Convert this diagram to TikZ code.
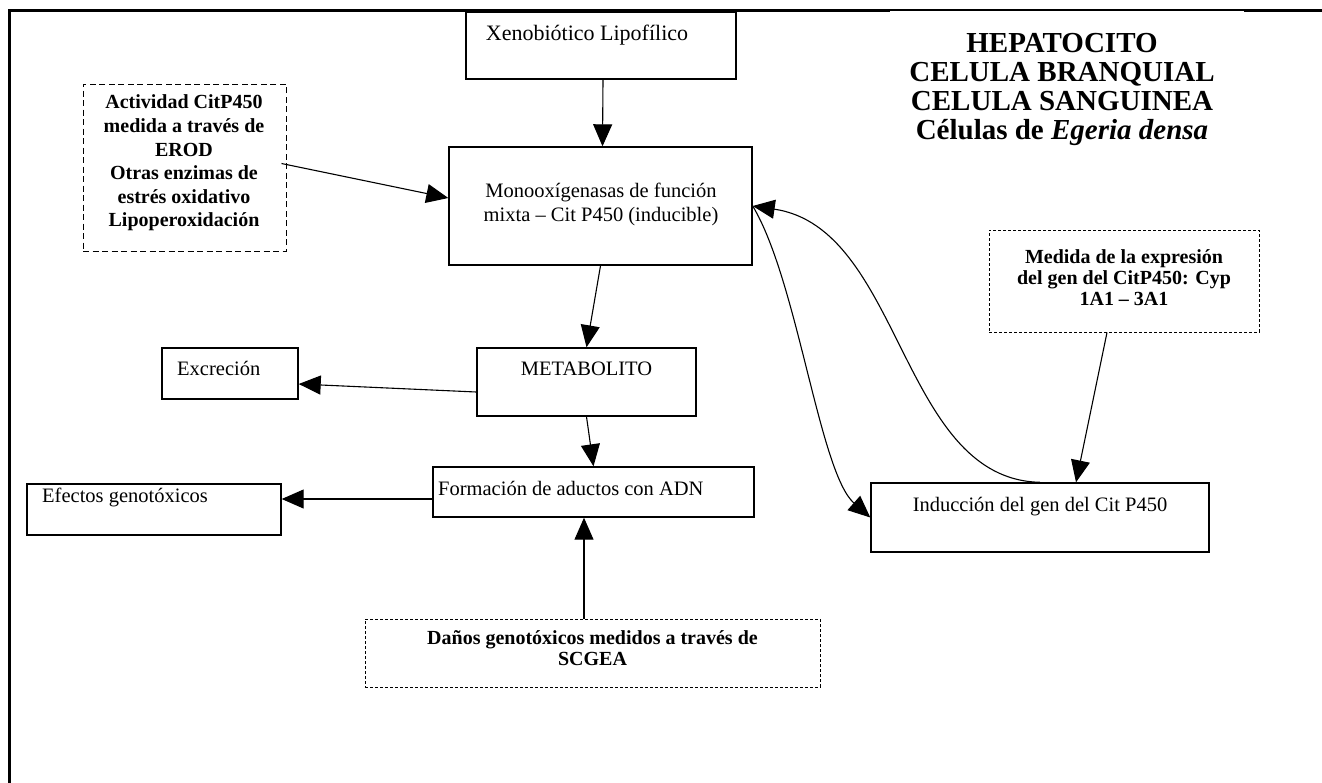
\documentclass[tikz,border=0pt]{standalone}
\usepackage{fontspec}
\setmainfont{Liberation Serif}
\usetikzlibrary{arrows.meta,calc}
\begin{document}
\begin{tikzpicture}[x=1pt,y=-1pt,
  box/.style={draw, line width=1.4pt, inner sep=0pt},
  dbox/.style={draw, line width=1pt, inner sep=0pt, dash pattern=on 6pt off 3.5pt},
  fbox/.style={draw, line width=1pt, inner sep=0pt, dash pattern=on 3pt off 2pt},
  txt/.style={inner sep=0pt, font=\fontsize{20.5}{24}\selectfont},
  btxt/.style={inner sep=0pt, align=center, font=\fontsize{20}{23.6}\selectfont\bfseries},
  ttl/.style={inner sep=0pt, align=center, font=\fontsize{29}{29}\selectfont\bfseries},
  arr/.style={line width=1.1pt, -{Triangle[length=22pt,width=19pt]}},
  frame/.style={line width=3pt}]
\useasboundingbox (0,0) rectangle (1322,782);
% frame
\coordinate (f0) at (9,782);
\coordinate (f1) at (9,10);
\coordinate (f2) at (888,10);
\coordinate (f3) at (1244,10);
\coordinate (f4) at (1322,10);
\draw[frame, line cap=rect] (f0) -- (f1) -- (f2);
\draw[line width=1.6pt] (f2) -- (f3);
\draw[frame] (f3) -- (f4);
% boxes
\node[box, minimum width=270pt, minimum height=67pt] (xeno) at (601,45.5) {};
\node[box, minimum width=303pt, minimum height=118pt] (mono) at (600.5,206) {};
\node[dbox, minimum width=203pt, minimum height=167pt] (lbox) at (184.5,167.5) {};
\node[fbox, minimum width=270pt, minimum height=102pt] (rbox) at (1124,281) {};
\node[box, minimum width=219pt, minimum height=68pt] (metab) at (586.5,382) {};
\node[box, minimum width=136pt, minimum height=51pt] (excr) at (230,373.5) {};
\node[box, minimum width=321pt, minimum height=50pt] (form) at (593.5,492) {};
\node[box, minimum width=254pt, minimum height=51pt] (efec) at (154,509.5) {};
\node[box, minimum width=338pt, minimum height=69pt] (induc) at (1040,517.5) {};
\node[fbox, minimum width=455pt, minimum height=68pt] (bbox) at (592.5,653) {};
% texts
\node[txt, anchor=base, font=\fontsize{22}{24}\selectfont] (xenoT) at (587,40) {Xenobiótico Lipofílico};
\node[txt, align=center] (monoT) at (601,204) {Monooxígenasas de función\\mixta – Cit P450 (inducible)};
\node[btxt] (lboxT) at (184,163) {Actividad CitP450\\medida a través de\\EROD\\Otras enzimas de\\estrés oxidativo\\Lipoperoxidación};
\node[ttl] (title) at (1062,89) {HEPATOCITO\\CELULA BRANQUIAL\\CELULA SANGUINEA\\Células de \textit{Egeria densa}};
\node[btxt, font=\fontsize{20}{21}\selectfont\bfseries] (rboxT) at (1124,278) {Medida de la expresión\\del gen del CitP450: Cyp\\1A1 – 3A1};
\node[txt, anchor=base] (metabT) at (586.5,375) {METABOLITO};
\node[txt, anchor=base west] (excrT) at (177,375) {Excreción};
\node[txt, anchor=base west] (formT) at (438,495) {Formación de aductos con ADN};
\node[txt, anchor=base west] (efecT) at (42,502) {Efectos genotóxicos};
\node[txt, anchor=base] (inducT) at (1040,511) {Inducción del gen del Cit P450};
\node[btxt, font=\fontsize{20}{21}\selectfont\bfseries] (bboxT) at (592.5,648) {Daños genotóxicos medidos a través de\\SCGEA};
% connectors
\draw[arr] ($(xeno.south)+(2,0)$) -- ($(mono.north)+(2,0)$);
\draw[arr] ($(lbox.east)+(-5,-4)$) -- ($(mono.west)+(0,-8)$);
\draw[arr] (mono.south) -- (metab.north);
\draw[arr] ($(metab.west)+(0,10)$) -- ($(excr.east)+(0,10.5)$);
\draw[arr] (metab.south) -- (form.north);
\coordinate (fw) at ($(form.west)+(0,7)$);
\draw[arr] (fw) -- (fw -| efec.east);
\coordinate (bn) at ($(bbox.north)+(-8.5,0)$);
\draw[arr] (bn) -- (bn |- form.south);
\draw[arr] ($(rbox.south)+(-17,0)$) -- ($(induc.north)+(36,0)$);
\draw[arr] (induc.north) .. controls +(-140,-3) and +(150,22) .. (mono.east);
\draw[arr] (mono.east) .. controls +(45,75) and +(-51,-45) .. (induc.west);
\end{tikzpicture}
\end{document}
